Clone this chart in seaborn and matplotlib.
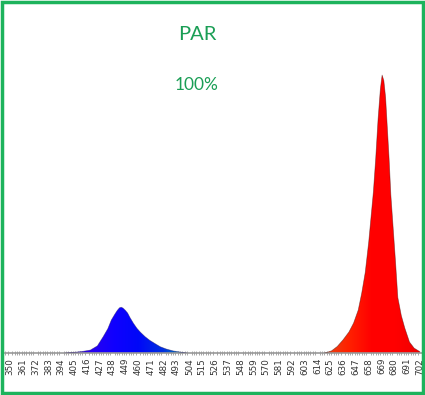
import numpy as np
import pandas as pd
import matplotlib
matplotlib.use('Agg')
import matplotlib.pyplot as plt
import seaborn as sns
from matplotlib.colors import LinearSegmentedColormap
from matplotlib.patches import Rectangle

# Espectro PAR (% del pico rojo)
blue_nm = [397, 405, 412, 419, 425, 430, 434, 437, 440, 442, 444, 445.5, 447, 449, 451,
           453, 456, 459, 462, 466, 470, 475, 479, 484, 490, 496, 502]
blue_val = [0, 0.3, 0.6, 1.1, 2.6, 5.9, 8.8, 11.9, 14.0, 15.3, 16.3, 16.5, 16.2, 15.4, 14.4,
            12.8, 10.7, 8.9, 7.5, 5.9, 4.6, 3.3, 2.3, 1.5, 0.8, 0.4, 0]
red_nm = [620, 626, 631, 636, 641, 645, 649, 652, 655, 658, 660, 662, 664, 666, 668,
          669.5, 671, 672.5, 674, 675.5, 677, 679, 681, 683, 686, 689, 693, 697, 702]
red_val = [0, 0.8, 2.4, 4.8, 7.6, 10.8, 15.5, 21.6, 29, 40, 49, 58, 70, 84, 95,
           100, 98, 92, 81, 70, 57, 45, 33, 20, 13.5, 9, 4, 1.8, 0.5]
tick_nm = list(range(350, 703, 11))

title = 'PAR'
subtitle = '100%'

df_blue = pd.DataFrame({'nm': blue_nm, 'val': blue_val})
df_red = pd.DataFrame({'nm': red_nm, 'val': red_val})

sns.set_style('white')
fig = plt.figure(figsize=(4.25, 3.95), dpi=100)
ax = fig.add_axes([0.0118, 0.106, 0.981, 0.742])

cmap_blue = LinearSegmentedColormap.from_list('b', ['#3a14c8', '#2a00f0', '#1000ff', '#0008f8', '#0030e0', '#00a0a8'])
cmap_red = LinearSegmentedColormap.from_list('r', ['#e84818', '#ff2200', '#ff0000', '#ff0000', '#f00000'])

for d, cm, edge in [(df_blue, cmap_blue, '#201060'), (df_red, cmap_red, '#401010')]:
    poly = ax.fill_between(d['nm'], 0, d['val'], color='none', lw=0)
    grad = np.linspace(0, 1, 256).reshape(1, -1)
    im = ax.imshow(grad, cmap=cm, aspect='auto', origin='lower',
                   extent=[d['nm'].min(), d['nm'].max(), 0, d['val'].max()], zorder=2)
    im.set_clip_path(poly.get_paths()[0], transform=ax.transData)
    sns.lineplot(data=d, x='nm', y='val', ax=ax, color=edge, lw=0.5, alpha=0.5, zorder=3)

ax.set_xlim(345.7, 703.7)
ax.set_ylim(0, 105.4)
ax.set_xticks(tick_nm)
ax.set_xticklabels([str(t) for t in tick_nm], rotation=90, fontsize=6.3, color='#333333')
ax.set_xticks(np.arange(346, 704, 2), minor=True)
ax.tick_params(axis='x', which='major', length=3, color='#888888', pad=2, direction='inout')
ax.tick_params(axis='x', which='minor', length=3, color='#999999', width=0.6, bottom=True, direction='inout')
ax.set_yticks([])
ax.set_xlabel('')
ax.set_ylabel('')
for s in ['top', 'left', 'right']:
    ax.spines[s].set_visible(False)
ax.spines['bottom'].set_color('#999999')
ax.spines['bottom'].set_linewidth(1.2)
ax.patch.set_alpha(0)

fig.text(197 / 425, 1 - 35 / 395, title, color='#1a9e55', fontsize=14.5, family='Lato',
         ha='center', va='center')
fig.text(197 / 425, 1 - 85 / 395, subtitle, color='#1a9e55', fontsize=12.5, family='Lato',
         ha='center', va='center')

fig.patches.append(Rectangle((0.004, 0.004), 0.992, 0.992, transform=fig.transFigure,
                             fill=False, edgecolor='#1db35c', lw=2.5))

plt.savefig('out.png', dpi=100)
